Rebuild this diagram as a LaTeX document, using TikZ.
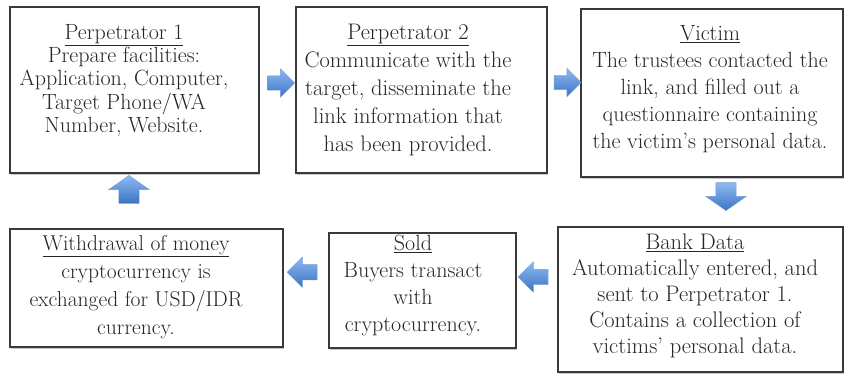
\documentclass[tikz,border=0pt]{standalone}
\usetikzlibrary{shapes.arrows,shadows,calc}
\definecolor{inkgray}{HTML}{262626}
\definecolor{framegray}{HTML}{3A3A3A}
\definecolor{arrowlight}{HTML}{8DBBF0}
\definecolor{arrowdark}{HTML}{3C73C4}
\tikzset{
  box/.style={draw=framegray, line width=1.3pt, fill=white, inner sep=0pt,
    general shadow={shadow xshift=0.8pt, shadow yshift=-1.6pt, fill=gray!45}},
  txt/.style={align=center, inner sep=0pt, anchor=north, text=inkgray},
  flow/.style={single arrow, draw=arrowdark!70, line width=0.4pt,
    top color=arrowlight, bottom color=arrowdark,
    single arrow head extend=7pt, inner xsep=0pt, inner ysep=7pt,
    minimum height=27pt},
  vflow/.style={single arrow, draw=arrowdark!70, line width=0.4pt,
    top color=arrowlight, bottom color=arrowdark,
    single arrow head extend=10pt, single arrow tip angle=110,
    inner xsep=10pt, inner ysep=0pt, minimum height=28pt},
}
\newcommand{\hd}[1]{\underline{#1}}
\begin{document}
\begin{tikzpicture}[x=1pt,y=-1pt]
\useasboundingbox (0,0) rectangle (845,374);

% frames of the six stages
\node[box, minimum width=249pt, minimum height=166pt] (p1) at (134.5,90) {};
\node[box, minimum width=251pt, minimum height=166pt] (p2) at (421.5,90) {};
\node[box, minimum width=262pt, minimum height=168pt] (vi) at (712,93) {};
\node[box, minimum width=285pt, minimum height=145pt] (bd) at (700.5,299.5) {};
\node[box, minimum width=187pt, minimum height=115pt] (so) at (422.5,290.5) {};
\node[box, minimum width=273pt, minimum height=118pt] (wd) at (146.5,288) {};

% texts of the stages
\node[txt, font=\fontsize{22}{23.3}\selectfont] (p1t) at (124,24)
  {\hd{Perpetrator 1}\\Prepare facilities:\\Application, Computer,\\Target Phone/WA\\Number, Website.};
\node[txt, font=\fontsize{22.5}{28}\selectfont] (p2t) at (408,24)
  {\hd{Perpetrator 2}\\Communicate with the\\target, disseminate the\\link information that\\has been provided.};
\node[txt, font=\fontsize{22}{27}\selectfont] (vit) at (710,25)
  {\hd{Victim}\\The trustees contacted the\\link, and filled out a\\questionnaire containing\\the victim's personal data.};
\node[txt, font=\fontsize{22.5}{26}\selectfont] (bdt) at (695,234)
  {\hd{Bank Data}\\Automatically entered, and\\sent to Perpetrator 1.\\Contains a collection of\\victims' personal data.};
\node[txt, font=\fontsize{22}{27}\selectfont] (sot) at (413,235)
  {\hd{Sold}\\Buyers transact\\with\\cryptocurrency.};
\node[txt, font=\fontsize{21.5}{28}\selectfont] (wdt) at (136,235)
  {\hd{Withdrawal of money}\\cryptocurrency is\\exchanged for USD/IDR\\currency.};

% block arrows between the stages
\node[flow] (a12) at ($(p1.east)!0.5!(p2.west)+(0,-7)$) {};
\node[flow] (a23) at ($(p2.east)!0.5!(vi.west)+(0,-9)$) {};
\node[vflow, shape border rotate=270] (a34) at (726,193) {};
\node[flow, shape border rotate=180, minimum height=30pt,
  inner ysep=7.5pt, single arrow head extend=7.5pt]
  (a45) at ($(so.east)!0.5!(bd.west)+(0,-18)$) {};
\node[flow, shape border rotate=180, minimum height=30pt,
  inner ysep=7.5pt, single arrow head extend=7.5pt]
  (a56) at ($(wd.east)!0.5!(so.west)+(0,-17)$) {};
\node[vflow, shape border rotate=90] (a61) at (129,193) {};
\end{tikzpicture}
\end{document}
